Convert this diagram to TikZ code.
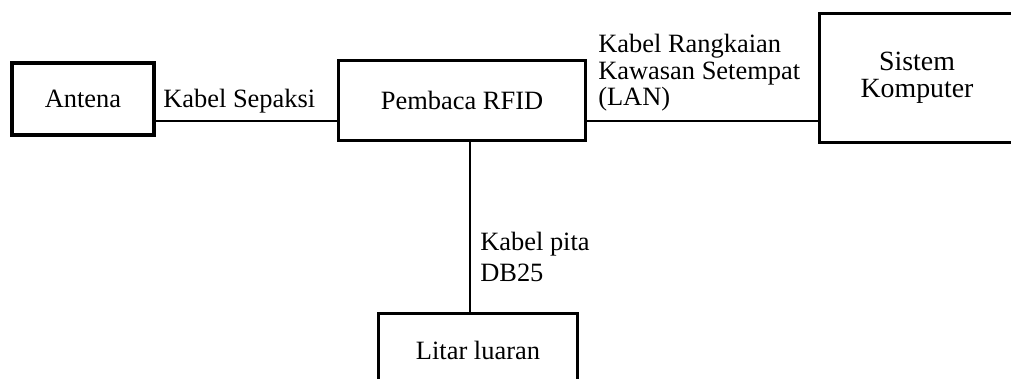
\documentclass[tikz,border=0pt]{standalone}
\usepackage{fontspec}
\setmainfont{Liberation Serif}
\begin{document}
\begin{tikzpicture}[x=0.025cm, y=-0.025cm]
\tikzstyle{every node}=[font=\fontsize{18.8pt}{17.8pt}\selectfont, inner sep=0pt]
\tikzstyle{unit}=[shape=rectangle, draw, align=center]
\tikzstyle{cable}=[line width=1.5pt]
\useasboundingbox (0,0) rectangle (1011,379);
\clip (0,0) rectangle (1011,379);
\node [unit, line width=2.85pt, minimum width=3.55cm, minimum height=1.8cm] (AN) at (83, 99) {Antena};
\node [unit, line width=1.9pt, minimum width=6.175cm, minimum height=2cm] (PR) at (462, 100.5) {Pembaca RFID};
\node [unit, line width=2.1pt, minimum width=4.875cm, minimum height=3.225cm, font=\fontsize{19.8pt}{19.4pt}\selectfont] (SK) at (917, 78) {Sistem\\Komputer};
\node [unit, line width=2.3pt, minimum width=4.97cm, minimum height=1.82cm] (LL) at (478, 350) {Litar luaran};
\node [anchor=base west] (KS) at (163, 108) {Kabel Sepaksi};
\node [anchor=west, align=left, font=\fontsize{18.8pt}{18.85pt}\selectfont] (LAN) at (598, 73) {Kabel Rangkaian\\Kawasan Setempat\\(LAN)};
\node [anchor=west, align=left, font=\fontsize{18.8pt}{21.8pt}\selectfont] (KP) at (480, 257) {Kabel pita\\DB25};
\coordinate (bus) at (0, 121);
\coordinate (drop) at (470, 0);
\draw [cable] (AN.east |- bus) to (PR.west |- bus);
\draw [cable] (PR.east |- bus) to (SK.west |- bus);
\draw [cable] (PR.south -| drop) to (LL.north -| drop);
\end{tikzpicture}
\end{document}
